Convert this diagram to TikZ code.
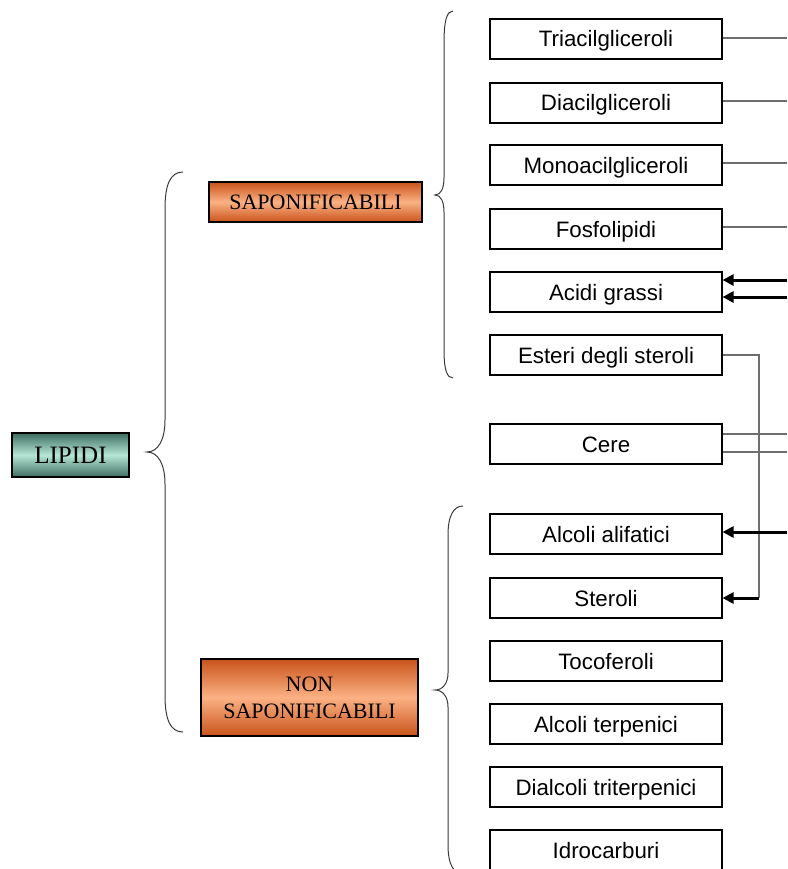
\documentclass[tikz,border=0pt]{standalone}
\usepackage{fontspec}
\setmainfont{Liberation Serif}
\newfontfamily\arialfont{Liberation Sans}
\usetikzlibrary{arrows.meta}
\definecolor{orD}{HTML}{C9531A}
\definecolor{orL}{HTML}{FBB184}
\definecolor{tlD}{HTML}{3E6E60}
\definecolor{tlL}{HTML}{B6E6D6}
\definecolor{lineg}{HTML}{6E6E6E}
\definecolor{bracec}{HTML}{3A3A3A}
\begin{document}
\begin{tikzpicture}[x=1pt,y=-1pt,
  itembox/.style={draw=black, line width=1.1pt, fill=white, minimum width=232pt, minimum height=40pt, inner sep=0pt, text height=16pt, text depth=0pt, font=\arialfont\fontsize{22.3}{24}\selectfont},
  catbox/.style={draw=black, line width=1.1pt, inner sep=0pt, align=center, font=\fontsize{22}{27}\selectfont},
  orbox/.style={catbox, top color=orD, bottom color=orD, middle color=orL},
  tlbox/.style={catbox, top color=tlD, bottom color=tlD, middle color=tlL},
  bracepath/.style={draw=bracec, line width=1pt},
  thinconn/.style={draw=lineg, line width=1.2pt},
  thickarr/.style={draw=black, line width=3pt, -{Triangle[length=11pt,width=11pt]}}
]
\useasboundingbox (0,0) rectangle (787,869);

% category boxes
\node[tlbox, minimum width=117pt, minimum height=44pt, text height=16pt, text depth=0pt, font=\fontsize{25}{27}\selectfont] (lipidi) at (70.5,455) {LIPIDI};
\node[orbox, minimum width=213pt, minimum height=40pt, text height=14.5pt, text depth=0pt] (sap) at (315.5,202) {SAPONIFICABILI};
\node[orbox, minimum width=217pt, minimum height=77pt] (nonsap) at (309.5,697.5) {NON\\SAPONIFICABILI};

% item boxes
\node[itembox] (tri) at (606,39) {Triacilgliceroli};
\node[itembox] (dia) at (606,103) {Diacilgliceroli};
\node[itembox] (mono) at (606,165) {Monoacilgliceroli};
\node[itembox] (fosfo) at (606,229) {Fosfolipidi};
\node[itembox] (acidi) at (606,292) {Acidi grassi};
\node[itembox] (esteri) at (606,355) {Esteri degli steroli};
\node[itembox] (cere) at (606,444) {Cere};
\node[itembox] (alif) at (606,534) {Alcoli alifatici};
\node[itembox] (steroli) at (606,598) {Steroli};
\node[itembox] (toco) at (606,661) {Tocoferoli};
\node[itembox] (terp) at (606,724) {Alcoli terpenici};
\node[itembox] (dial) at (606,787) {Dialcoli triterpenici};
\node[itembox] (idro) at (606,850) {Idrocarburi};

% braces
\draw[bracepath] (183,172) .. controls (170,172) and (165,185) .. (165,209) -- (165,420)
  .. controls (165,440) and (158,452) .. (147,452)
  .. controls (158,452) and (165,464) .. (165,484) -- (165,695)
  .. controls (165,719) and (170,732) .. (183,732);
\draw[bracepath] (453,11) .. controls (447,11) and (444,20) .. (444,43) -- (444,178)
  .. controls (444,188) and (441,195) .. (435,195)
  .. controls (441,195) and (444,202) .. (444,212) -- (444,350)
  .. controls (444,370) and (447,378) .. (453,378);
\draw[bracepath] (463,506) .. controls (454,506) and (448,515) .. (448,535) -- (448,673)
  .. controls (448,683) and (443,690) .. (435,690)
  .. controls (443,690) and (448,697) .. (448,707) -- (448,845)
  .. controls (448,865) and (454,874) .. (463,874);

% right-edge coordinates
\coordinate (r1) at (787,38);
\coordinate (r2) at (787,101);
\coordinate (r3) at (787,163);
\coordinate (r4) at (787,227);
\coordinate (a1) at (787,280);
\coordinate (a2) at (787,297);
\coordinate (c1) at (787,434);
\coordinate (c2) at (787,452);
\coordinate (a3) at (787,532);
\coordinate (ev) at (759,0);

% connectors
\draw[thinconn] (tri.east |- r1) -- (r1);
\draw[thinconn] (dia.east |- r2) -- (r2);
\draw[thinconn] (mono.east |- r3) -- (r3);
\draw[thinconn] (fosfo.east |- r4) -- (r4);
\draw[thinconn] (cere.east |- c1) -- (c1);
\draw[thinconn] (cere.east |- c2) -- (c2);
\draw[thinconn] (esteri.east) -| (ev |- steroli.east);
\draw[thickarr] (a1) -- (acidi.east |- a1);
\draw[thickarr] (a2) -- (acidi.east |- a2);
\draw[thickarr] (a3) -- (alif.east |- a3);
\draw[thickarr] (ev |- steroli.east) -- (steroli.east);
\end{tikzpicture}
\end{document}
